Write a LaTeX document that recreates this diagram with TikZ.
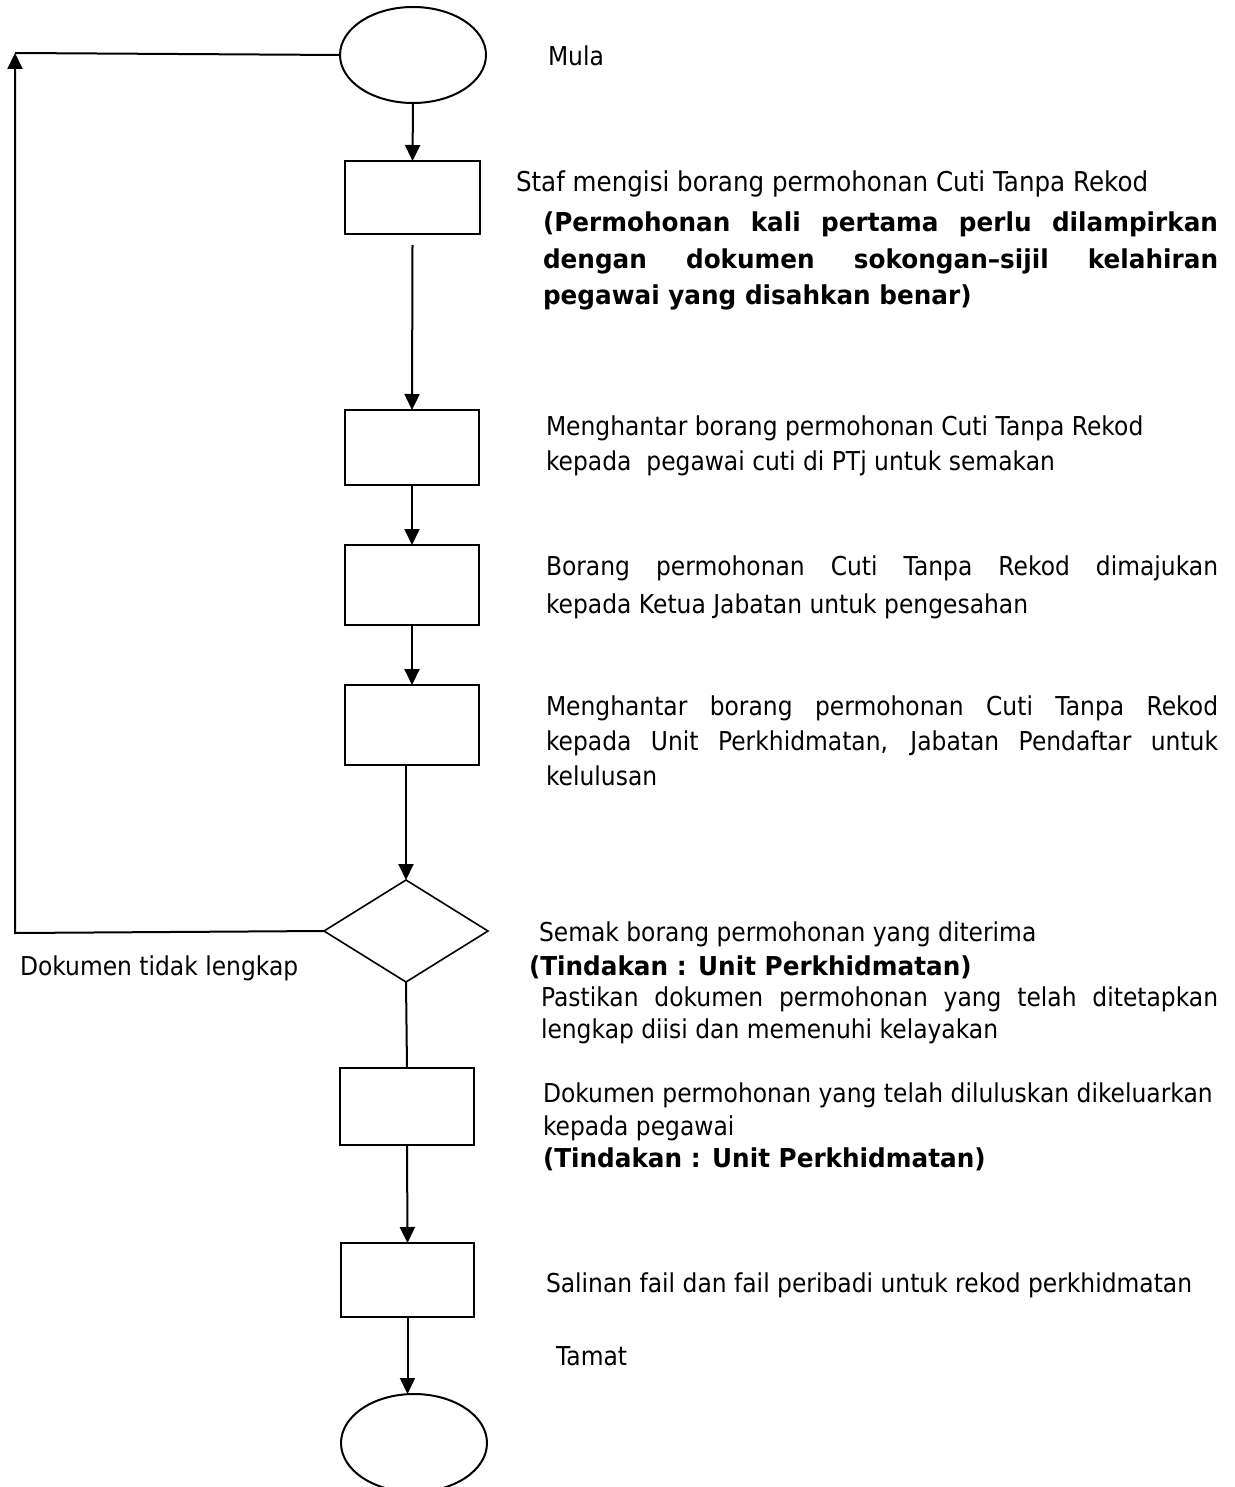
\documentclass[tikz,border=0pt]{standalone}
\usepackage{fontspec}
\setmainfont{DejaVu Sans}[FakeStretch=0.9]
\newfontfamily\boldfam{DejaVu Sans}[FakeStretch=0.95]
\usetikzlibrary{shapes.geometric,arrows.meta}
\begin{document}
\begin{tikzpicture}[x=1pt,y=-1pt,
  line width=2pt,
  every node/.style={inner sep=0pt,outer sep=0pt},
  term/.style={draw,ellipse,minimum width=146pt,minimum height=96pt},
  procbox/.style={draw,rectangle,minimum width=134pt,minimum height=75pt},
  decision/.style={draw,diamond,minimum width=164pt,minimum height=102pt,line width=1.6pt},
  arr/.style={-{Triangle[length=16pt,width=15pt]}},
  txt/.style={anchor=north west,font=\fontsize{26}{35}\selectfont,align=left},
  para/.style={txt,text width=#1,align=justify},
]
\useasboundingbox (0,0) rectangle (1234,1487);
% shapes
\node[term] (start) at (413,55) {};
\node[procbox,minimum width=135pt,minimum height=73pt] (b1) at (412.5,197.5) {};
\node[procbox] (b2) at (412,447.5) {};
\node[procbox,minimum height=80pt] (b3) at (412,585) {};
\node[procbox,minimum height=80pt] (b4) at (412,725) {};
\node[decision] (dec) at (406,931) {};
\node[procbox,minimum height=77pt] (b5) at (407,1106.5) {};
\node[procbox,minimum width=133pt,minimum height=74pt] (b6) at (407.5,1280) {};
\node[term,minimum height=98pt] (end) at (414,1443) {};
\coordinate (lb) at (15,933);
\coordinate (lt) at (15,53);
% connectors
\draw[arr] (start.south) -- (b1.north);
\draw[arr] ([yshift=-11pt]b1.south) -- (b2.north);
\draw[arr] (b2.south) -- (b3.north);
\draw[arr] (b3.south) -- (b4.north);
\draw[arr] (dec.north |- b4.south) -- (dec.north);
\draw (dec.south) -- (b5.north);
\draw[arr] (b5.south) -- (b6.north);
\draw[arr] (b6.south) -- (b6.south |- end.north);
\draw[arr] (dec.west) -- (lb) -- (lt);
\draw (lt) -- (start.west);
% texts
\node[txt] (tmula) at (548,46) {Mula};
\node[txt,font=\fontsize{27.3}{35}\selectfont] (tstaf) at (516,171) {Staf mengisi borang permohonan Cuti Tanpa Rekod};
\node[para=675pt,font=\boldfam\bfseries\fontsize{26}{36.5}\selectfont] (tnote) at (543,212) {(Permohonan kali pertama perlu dilampirkan\linebreak dengan dokumen sokongan–sijil kelahiran\linebreak pegawai yang disahkan benar)};
\node[txt] (t2) at (546,416) {Menghantar borang permohonan Cuti Tanpa Rekod\\kepada\ \ pegawai cuti di PTj untuk semakan};
\node[para=672pt,font=\fontsize{26}{38}\selectfont] (t3) at (546,556) {Borang permohonan Cuti Tanpa Rekod dimajukan\linebreak kepada Ketua Jabatan untuk pengesahan};
\node[para=672pt] (t4) at (546,696) {Menghantar borang permohonan Cuti Tanpa Rekod\linebreak kepada Unit Perkhidmatan, Jabatan Pendaftar untuk\linebreak kelulusan};
\node[txt] (t5a) at (539,922) {Semak borang permohonan yang diterima};
\node[txt,font=\boldfam\bfseries\fontsize{26}{35}\selectfont] (t5b) at (529,956) {(Tindakan : Unit Perkhidmatan)};
\node[para=677pt,font=\fontsize{26}{32}\selectfont] (t5c) at (541,987) {Pastikan dokumen permohonan yang telah ditetapkan\linebreak lengkap diisi dan memenuhi kelayakan};
\node[txt,font=\fontsize{26}{32.5}\selectfont] (t6) at (543,1083) {Dokumen permohonan yang telah diluluskan dikeluarkan\\kepada pegawai\\{\boldfam\bfseries (Tindakan : Unit Perkhidmatan)}};
\node[txt] (t7) at (546,1273) {Salinan fail dan fail peribadi untuk rekod perkhidmatan};
\node[txt] (t8) at (556,1347) {Tamat};
\node[txt] (tdok) at (20,956) {Dokumen tidak lengkap};
\end{tikzpicture}
\end{document}
